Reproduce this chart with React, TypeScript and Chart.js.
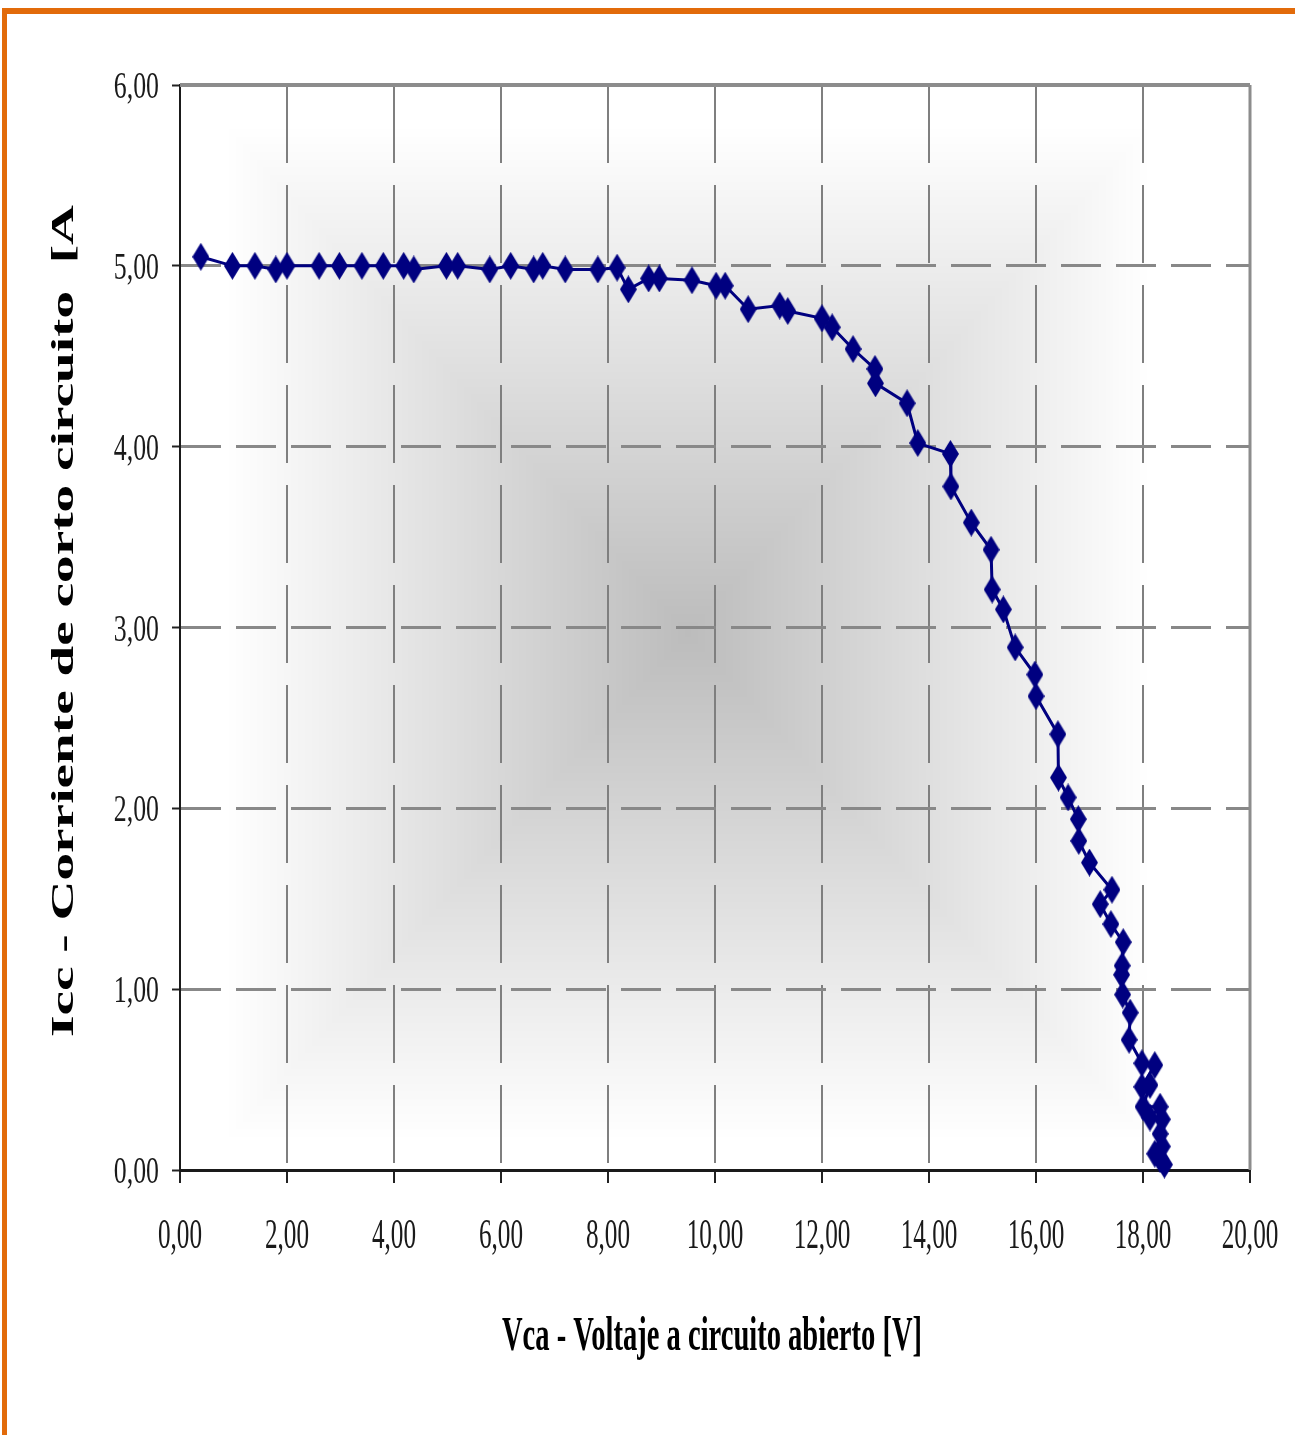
import { useEffect, useRef } from 'react';
import { Chart, registerables } from 'chart.js';

Chart.register(...registerables);

// Measured I-V curve: open-circuit voltage [V] and short-circuit current [A]
const voltage = [
  0.39, 0.98, 1.40, 1.79, 2.00, 2.60, 2.98, 3.40, 3.80, 4.18, 4.37, 4.98, 5.19, 5.79, 6.18,
  6.61, 6.78, 7.20, 7.81, 8.17, 8.38, 8.76, 8.96, 9.57, 10.02, 10.19, 10.62, 11.21, 11.36,
  12.00, 12.19, 12.58, 12.99, 13.00, 13.59, 13.79, 14.40, 14.41, 14.79, 15.16, 15.18, 15.39,
  15.61, 15.98, 16.00, 16.41, 16.42, 16.60, 16.79, 16.80, 17.00, 17.42, 17.20, 17.40, 17.63,
  17.61, 17.60, 17.62, 17.76, 17.74, 17.98, 18.22, 17.98, 18.13, 18.00, 18.32, 18.13, 18.36,
  18.32, 18.36, 18.22, 18.32, 18.40,
];
const current = [
  5.05, 5.00, 5.00, 4.98, 5.00, 5.00, 5.00, 5.00, 5.00, 5.00, 4.98, 5.00, 5.00, 4.98, 5.00,
  4.98, 5.00, 4.98, 4.98, 4.99, 4.87, 4.93, 4.93, 4.92, 4.89, 4.89, 4.76, 4.78, 4.75,
  4.71, 4.66, 4.54, 4.43, 4.35, 4.24, 4.02, 3.96, 3.78, 3.58, 3.43, 3.21, 3.10,
  2.89, 2.74, 2.62, 2.41, 2.17, 2.06, 1.94, 1.82, 1.70, 1.55, 1.47, 1.36, 1.26,
  1.13, 1.08, 0.97, 0.87, 0.72, 0.59, 0.58, 0.46, 0.47, 0.35, 0.35, 0.29, 0.28,
  0.20, 0.13, 0.09, 0.06, 0.03,
];

const xTickLabels = ['0,00', '2,00', '4,00', '6,00', '8,00', '10,00', '12,00', '14,00', '16,00', '18,00', '20,00'];
const yTickLabels = ['0,00', '1,00', '2,00', '3,00', '4,00', '5,00', '6,00'];
const xTitle = 'Vca - Voltaje a circuito abierto [V]';
const yTitle = 'Icc - Corriente de corto circuito  [A';

const W = 1295;
const H = 1435;
const SERIF = '"Liberation Serif", "Times New Roman", serif';

function makeDiamond(): HTMLCanvasElement {
  const c = document.createElement('canvas');
  c.width = 17;
  c.height = 28;
  const g = c.getContext('2d')!;
  g.fillStyle = '#000080';
  g.beginPath();
  g.moveTo(8.5, 0);
  g.lineTo(17, 14);
  g.lineTo(8.5, 28);
  g.lineTo(0, 14);
  g.closePath();
  g.fill();
  return c;
}

function squeezed(
  ctx: CanvasRenderingContext2D,
  text: string,
  x: number,
  y: number,
  font: string,
  sx: number,
  align: CanvasTextAlign,
) {
  ctx.save();
  ctx.font = font;
  ctx.textAlign = align;
  ctx.textBaseline = 'alphabetic';
  ctx.translate(x, y);
  ctx.scale(sx, 1);
  ctx.fillText(text, 0, 0);
  ctx.restore();
}

const decor = {
  id: 'decor',
  beforeDraw(chart: any) {
    const { ctx, chartArea: a } = chart;
    ctx.save();
    ctx.fillStyle = '#ffffff';
    ctx.fillRect(0, 0, chart.width, chart.height);
    ctx.restore();
    // rectangular "from centre" gradient, computed per pixel
    const l = Math.round(a.left + 45);
    const r = Math.round(a.right - 100);
    const t = Math.round(a.top + 40);
    const b = Math.round(a.bottom - 30);
    const w = r - l;
    const h = b - t;
    const cx = w / 2;
    const cy = h / 2;
    const dark = 188;
    const img = ctx.createImageData(w, h);
    const d = img.data;
    for (let y = 0; y < h; y++) {
      const fy = Math.abs(y - cy) / cy;
      for (let x = 0; x < w; x++) {
        const fx = Math.abs(x - cx) / cx;
        const f = Math.min(1, Math.max(fx, fy));
        const v = Math.round(dark + (255 - dark) * f);
        const k = (y * w + x) * 4;
        d[k] = v;
        d[k + 1] = v;
        d[k + 2] = v;
        d[k + 3] = 255;
      }
    }
    ctx.putImageData(img, l, t);
  },
  beforeDatasetsDraw(chart: any) {
    const { ctx, chartArea: a } = chart;
    ctx.save();
    ctx.strokeStyle = '#8c8c8c';
    ctx.lineWidth = 4;
    ctx.beginPath();
    ctx.moveTo(a.left, a.top);
    ctx.lineTo(a.right, a.top);
    ctx.stroke();
    ctx.lineWidth = 3;
    ctx.beginPath();
    ctx.moveTo(a.right, a.top);
    ctx.lineTo(a.right, a.bottom);
    ctx.stroke();
    ctx.restore();
  },
  afterDraw(chart: any) {
    const { ctx } = chart;
    const xs = chart.scales.x;
    const ys = chart.scales.y;
    ctx.save();
    ctx.fillStyle = '#1a1a1a';
    xs.ticks.forEach((t: any, i: number) => {
      const px = xs.getPixelForValue(t.value);
      squeezed(ctx, xTickLabels[i], px, 1248, `42px ${SERIF}`, 0.6, 'center');
    });
    ys.ticks.forEach((t: any, i: number) => {
      const py = ys.getPixelForValue(t.value);
      squeezed(ctx, yTickLabels[i], 159, py + 13, `38px ${SERIF}`, 0.68, 'right');
    });
    // x title
    ctx.fillStyle = '#000000';
    ctx.font = `bold 48px ${SERIF}`;
    const xw = ctx.measureText(xTitle).width;
    squeezed(ctx, xTitle, 712, 1350, `bold 48px ${SERIF}`, 420 / xw, 'center');
    // y title (rotated)
    ctx.font = `bold 46px ${SERIF}`;
    const yw = ctx.measureText(yTitle).width;
    ctx.save();
    ctx.translate(73, 621);
    ctx.rotate(-Math.PI / 2);
    ctx.scale(832 / yw, 0.69);
    ctx.textAlign = 'center';
    ctx.textBaseline = 'alphabetic';
    ctx.fillText(yTitle, 0, 0);
    ctx.restore();
    // orange frame
    ctx.fillStyle = '#E26B0A';
    ctx.fillRect(2, 8, W - 2, 6);
    ctx.fillRect(2, 8, 5, H - 8);
    ctx.restore();
  },
};

export default function App() {
  const ref = useRef<HTMLCanvasElement | null>(null);

  useEffect(() => {
    if (!ref.current) return;
    const points = voltage.map((v, i) => ({ x: v, y: current[i] }));
    const chart = new Chart(ref.current, {
      type: 'scatter',
      data: {
        datasets: [
          {
            data: points,
            showLine: true,
            borderColor: '#000080',
            borderWidth: 3,
            pointStyle: makeDiamond() as any,
            pointRadius: 9,
            pointHoverRadius: 9,
            backgroundColor: '#000080',
            clip: false as any,
          },
        ],
      },
      options: {
        animation: false,
        responsive: false,
        devicePixelRatio: 1,
        events: [],
        layout: { padding: { top: 85, right: 45, left: 0, bottom: 0 } },
        plugins: { legend: { display: false }, tooltip: { enabled: false }, title: { display: false } },
        scales: {
          x: {
            type: 'linear',
            min: 0,
            max: 20,
            ticks: { stepSize: 2, display: false },
            grid: {
              color: '#7f7f7f',
              lineWidth: 2,
              drawTicks: true,
              tickLength: 13,
              tickColor: '#222222',
              tickWidth: 2,
            },
            border: { display: true, color: '#1a1a1a', width: 3, dash: [78, 22] },
            afterFit: (s: any) => {
              s.height = H - 1170;
            },
          },
          y: {
            type: 'linear',
            min: 0,
            max: 6,
            ticks: { stepSize: 1, display: false },
            grid: {
              color: '#888888',
              lineWidth: 3,
              drawTicks: true,
              tickLength: 8,
              tickColor: '#222222',
              tickWidth: 2,
            },
            border: { display: true, color: '#1a1a1a', width: 2, dash: [40, 15] },
            afterFit: (s: any) => {
              s.width = 180;
            },
          },
        },
      },
      plugins: [decor],
    });
    return () => chart.destroy();
  }, []);

  return (
    <div style={{ position: 'absolute', left: 0, top: 0, width: W, height: H }}>
      <canvas ref={ref} width={W} height={H} style={{ width: W, height: H, display: 'block' }} />
    </div>
  );
}
